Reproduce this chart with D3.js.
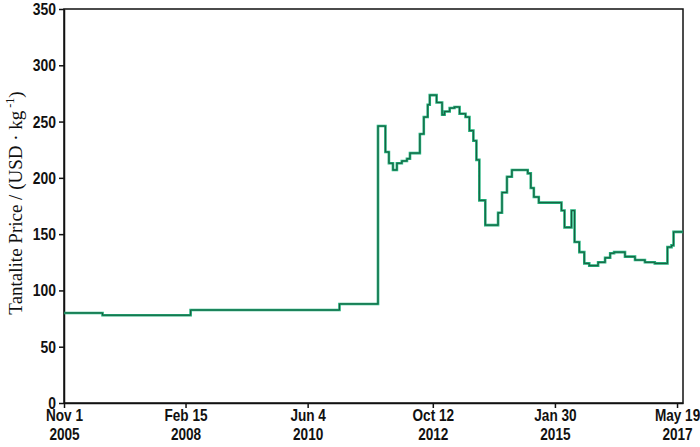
<!DOCTYPE html>
<html>
<head>
<meta charset="utf-8">
<script src="https://cdn.jsdelivr.net/npm/d3@7"></script>
<style>
  html, body { margin: 0; padding: 0; background: #fff; }
  svg { display: block; }
  .axis text { font-family: "Liberation Sans", Arial, sans-serif; font-weight: bold; font-size: 17px; fill: #111; }
  .axis.x text { font-size: 16px; }
  .axis path, .axis line { stroke: #111; stroke-width: 1.5px; }
</style>
</head>
<body>
<svg id="chart" width="700" height="447"></svg>
<script>
// Observation dates (step changes) and price in USD/kg
const dates = [
  '2005-11-01', '2006-07-24', '2008-03-21', '2011-01-09', '2011-10-01',
  '2011-11-21', '2011-12-15', '2012-01-12', '2012-02-08', '2012-03-13',
  '2012-04-17', '2012-05-08', '2012-07-15', '2012-08-11', '2012-09-07',
  '2012-09-21', '2012-11-07', '2012-12-15', '2013-01-01', '2013-02-05',
  '2013-03-10', '2013-04-14', '2013-05-25', '2013-06-21', '2013-07-18',
  '2013-08-08', '2013-08-28', '2013-10-08', '2014-01-04', '2014-01-31',
  '2014-03-06', '2014-04-09', '2014-07-27', '2014-08-17', '2014-09-07',
  '2014-10-11', '2015-03-16', '2015-04-06', '2015-05-24', '2015-06-14',
  '2015-07-17', '2015-08-20', '2015-09-23', '2015-11-23', '2016-01-10',
  '2016-02-14', '2016-03-12', '2016-05-26', '2016-08-03', '2016-10-10',
  '2016-12-17', '2017-03-14', '2017-04-11', '2017-04-25', '2017-06-29',
];
const prices = [
  80, 78, 82.6, 88, 246,
  223, 213, 207, 213, 215,
  217, 222, 239, 254, 265,
  273.5, 267, 256, 259, 262,
  263, 257, 254, 242, 233,
  216, 180, 158, 169, 187,
  201, 207, 204, 191, 183,
  178, 171, 156, 171, 143,
  134, 124, 122, 125, 129,
  133, 134, 130, 127, 125,
  124, 138.5, 140, 152, 152,
];

// Axis ticks
const tickDates = ['2005-11-01', '2008-02-15', '2010-06-04', '2012-10-12', '2015-01-30', '2017-05-19'];
const yTicks = [0, 50, 100, 150, 200, 250, 300, 350];
const xDomain = ['2005-11-01', '2017-06-29'];

const parse = d3.timeParse('%Y-%m-%d');
const data = dates.map(function(d, i) {
  return { date: parse(d), value: prices[i] };
});

// Layout
const layout = { width: 619, height: 394, marginLeft: 64, marginTop: 9 };
const squeezeY = 0.82;  // narrow the tick labels horizontally
const squeezeX = 0.85;

const svg = d3.select('#chart');
const stage = svg.append('g')
  .attr('transform', `translate(${layout.marginLeft},${layout.marginTop})`);

// Scales
const x = d3.scaleTime()
  .domain(xDomain.map(parse))
  .range([0, layout.width]);
const y = d3.scaleLinear()
  .domain([0, 350])
  .range([layout.height, 0]);

// Frame
stage.append('rect')
  .attr('width', layout.width)
  .attr('height', layout.height)
  .attr('fill', 'none')
  .attr('stroke', '#111')
  .attr('stroke-width', 1.5);

// Y axis
const yAxis = stage.append('g')
  .attr('class', 'axis y')
  .call(d3.axisLeft(y).tickValues(yTicks).tickSize(5).tickPadding(3).tickSizeOuter(0));

yAxis.selectAll('.tick text')
  .attr('x', -8 / squeezeY)
  .attr('transform', `scale(${squeezeY},1)`);

// X axis with two-line labels
const fmtDay = d3.timeFormat('%b %-d');
const fmtYear = d3.timeFormat('%Y');
const xAxis = stage.append('g')
  .attr('class', 'axis x')
  .attr('transform', `translate(0,${layout.height})`)
  .call(d3.axisBottom(x).tickValues(tickDates.map(parse)).tickSize(5).tickSizeOuter(0).tickFormat(''));

xAxis.selectAll('.tick text').each(function(d) {
  const t = d3.select(this).attr('y', 0).attr('dy', null)
    .attr('transform', `scale(${squeezeX},1)`);
  t.append('tspan').attr('x', 0).attr('y', 18).text(fmtDay(d));
  t.append('tspan').attr('x', 0).attr('y', 37).text(fmtYear(d));
});

// Y axis title
svg.append('text')
  .attr('transform', 'translate(22,203) rotate(-90)')
  .attr('text-anchor', 'middle')
  .style('font-family', '"Liberation Serif", "Times New Roman", serif')
  .style('font-size', '19px')
  .style('fill', '#111')
  .call(function(t) {
    t.append('tspan').text('Tantalite Price / (USD · kg');
    t.append('tspan').attr('dy', -8).style('font-size', '12px').text(' -1');
    t.append('tspan').attr('dy', 8).text(')');
  });

// Price line (step)
const line = d3.line()
  .x(function(d) { return x(d.date); })
  .y(function(d) { return y(d.value); })
  .curve(d3.curveStepAfter);

stage.append('path')
  .datum(data)
  .attr('d', line)
  .attr('fill', 'none')
  .attr('stroke', '#20b07a')
  .attr('stroke-width', 2.6);

stage.append('path')
  .datum(data)
  .attr('d', line)
  .attr('fill', 'none')
  .attr('stroke', '#1a5a3e')
  .attr('stroke-width', 1);
</script>
</body>
</html>
